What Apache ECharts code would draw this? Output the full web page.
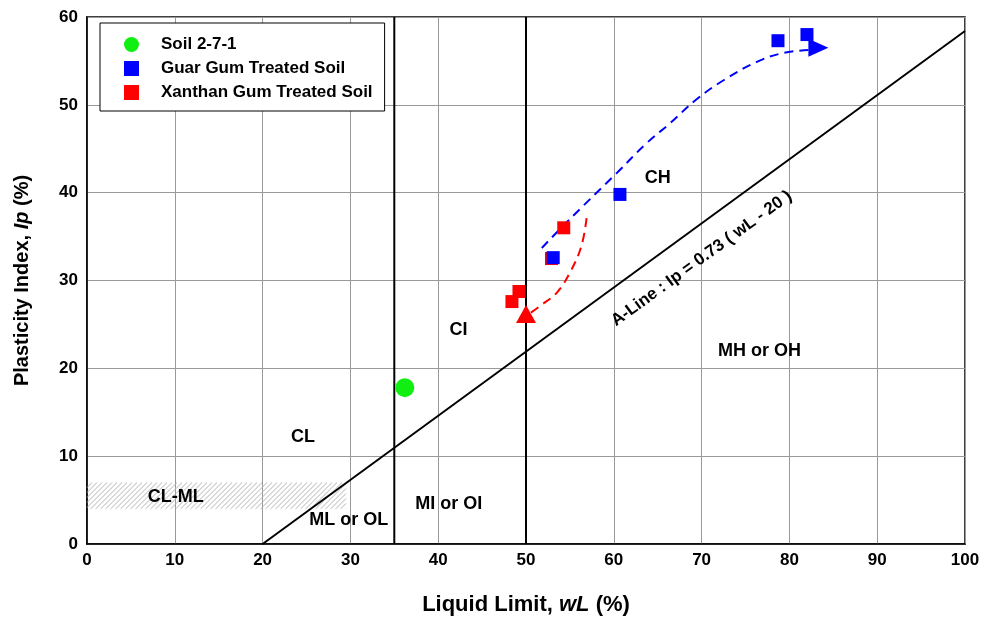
<!DOCTYPE html>
<html>
<head>
<meta charset="utf-8">
<script src="https://cdn.jsdelivr.net/npm/echarts@6/dist/echarts.min.js"></script>
<style>html,body{margin:0;padding:0;background:#fff;}#c{width:989px;height:621px;}</style>
</head>
<body>
<div id="c"></div>
<script>
// ---- data ----
const soilPoints = [[36.2, 17.8]];
const guarPoints = [[53.1, 32.6], [60.7, 39.8], [78.7, 57.3], [82.0, 58.0]];
const xanthanPoints = [[48.4, 27.6], [49.2, 28.75], [52.9, 32.5], [54.3, 36.0]];
const guarTrend = [[51.8, 33.7], [54.6, 36.6], [60.3, 42.2], [63.7, 45.6], [66.4, 47.9], [69.4, 50.6], [72.5, 52.8], [76.3, 54.9], [79.3, 55.9], [82.3, 56.25]];
const xanthanTrend = [[56.9, 37.1], [56.3, 33.9], [55.0, 30.9], [53.5, 28.6], [51.6, 27.1], [50.5, 26.3]];
const guarArrow = [[83.3, 56.5]];
const xanthanArrow = [[50.0, 26.2]];
const lineAtWL35 = [[35, 0], [35, 60]];
const lineAtWL50 = [[50, 0], [50, 60]];
const aLine = [[20, 0], [100, 58.4]];
const clmlZone = [[0, 4, 29.5, 7]];
const zoneNames = ['CL', 'CL-ML', 'ML or OL', 'MI or OI', 'CI', 'CH', 'MH or OH'];
const zoneX = [24.6, 10.1, 29.8, 41.2, 42.3, 65.0, 76.6];
const zoneY = [12.2, 5.3, 2.7, 4.5, 24.4, 41.7, 22.0];
const aLineLabel = 'A-Line : Ip = 0.73 ( wL - 20 )';
const aLineLabelPos = [70.0, 32.5];
const xTicks = [0, 10, 20, 30, 40, 50, 60, 70, 80, 90, 100];
const yTicks = [0, 10, 20, 30, 40, 50, 60];

const FONT = "'Liberation Sans', Arial, sans-serif";
const chart = echarts.init(document.getElementById('c'), null, {renderer: 'canvas'});

const option = {
  backgroundColor: '#fff',
  animation: false,
  textStyle: {fontFamily: FONT},
  grid: {left: 87, right: 24, top: 17, bottom: 76, show: true, borderColor: '#000', borderWidth: 1.5},
  legend: {
    left: 100, top: 23, orient: 'vertical',
    data: [
      {name: 'Soil 2-7-1', icon: 'circle'},
      {name: 'Guar Gum Treated Soil', icon: 'rect'},
      {name: 'Xanthan Gum Treated Soil', icon: 'rect'}
    ],
    backgroundColor: '#fff', borderColor: '#000', borderWidth: 1,
    padding: [13, 12, 10, 24], itemGap: 7, itemWidth: 15, itemHeight: 15,
    textStyle: {fontFamily: FONT, fontWeight: 'bold', fontSize: 17, color: '#000', padding: [0, 0, 0, 17]},
    z: 20
  },
  xAxis: {
    type: 'value', min: xTicks[0], max: xTicks[xTicks.length - 1], interval: 10,
    name: 'Liquid Limit, {i|wL} (%)', nameLocation: 'middle', nameGap: 50,
    nameTextStyle: {fontFamily: FONT, fontWeight: 'bold', fontSize: 22, color: '#000',
      rich: {i: {fontFamily: FONT, fontWeight: 'bold', fontStyle: 'italic', fontSize: 22, color: '#000'}}},
    axisLine: {lineStyle: {color: '#000', width: 1.5}},
    axisTick: {show: false},
    axisLabel: {color: '#000', fontWeight: 'bold', fontSize: 17, margin: 8, fontFamily: FONT},
    splitLine: {lineStyle: {color: '#999', width: 1}}
  },
  yAxis: {
    type: 'value', min: yTicks[0], max: yTicks[yTicks.length - 1], interval: 10,
    name: 'Plasticity Index, {i|Ip} (%)', nameLocation: 'middle', nameGap: 55,
    nameTextStyle: {fontFamily: FONT, fontWeight: 'bold', fontSize: 20, color: '#000',
      rich: {i: {fontFamily: FONT, fontWeight: 'bold', fontStyle: 'italic', fontSize: 20, color: '#000'}}},
    axisLine: {lineStyle: {color: '#000', width: 1.5}},
    axisTick: {show: false},
    axisLabel: {color: '#000', fontWeight: 'bold', fontSize: 17, margin: 9, fontFamily: FONT},
    splitLine: {lineStyle: {color: '#999', width: 1}}
  },
  series: [
    {
      type: 'custom', name: 'hatch', silent: true, z: 1,
      encode: {x: [0, 2], y: [1, 3]},
      data: clmlZone,
      renderItem: function (params, api) {
        const p0 = api.coord([api.value(0), api.value(3)]);
        const p1 = api.coord([api.value(2), api.value(1)]);
        const x0 = p0[0], y0 = p0[1], x1 = p1[0], y1 = p1[1];
        const children = [];
        const step = 5;
        for (let c = x0 + y0; c <= x1 + y1; c += step) {
          const xa = Math.max(x0, c - y1), xb = Math.min(x1, c - y0);
          if (xb <= xa) continue;
          children.push({type: 'line', shape: {x1: xa, y1: c - xa, x2: xb, y2: c - xb},
            style: {stroke: '#b5b5b5', lineWidth: 1}});
        }
        return {type: 'group', children: children};
      }
    },
    {type: 'line', data: lineAtWL35, symbol: 'none', lineStyle: {color: '#000', width: 2}, z: 2, silent: true},
    {type: 'line', data: lineAtWL50, symbol: 'none', lineStyle: {color: '#000', width: 2}, z: 2, silent: true},
    {type: 'line', data: aLine, symbol: 'none', lineStyle: {color: '#000', width: 2}, z: 2, silent: true},
    {type: 'line', data: guarTrend, symbol: 'none', smooth: 0.4, lineStyle: {color: '#0000ff', width: 2, type: [9, 6]}, z: 3},
    {type: 'line', data: xanthanTrend, symbol: 'none', smooth: 0.4, lineStyle: {color: '#ff0000', width: 2, type: [9, 6]}, z: 3},
    {name: 'Xanthan Gum Treated Soil', type: 'scatter', data: xanthanPoints, symbol: 'rect', symbolSize: 13, itemStyle: {color: '#ff0000', opacity: 1}, z: 4},
    {name: 'Guar Gum Treated Soil', type: 'scatter', data: guarPoints, symbol: 'rect', symbolSize: 13, itemStyle: {color: '#0000ff', opacity: 1}, z: 5},
    {name: 'Soil 2-7-1', type: 'scatter', data: soilPoints, symbol: 'circle', symbolSize: 19, itemStyle: {color: '#11ee11', opacity: 1}, z: 5},
    {type: 'scatter', data: guarArrow, symbol: 'triangle', symbolRotate: -90, symbolSize: [18, 20], itemStyle: {color: '#0000ff', opacity: 1}, z: 5},
    {type: 'scatter', data: xanthanArrow, symbol: 'triangle', symbolSize: [20, 18], itemStyle: {color: '#ff0000', opacity: 1}, z: 5},
    {
      type: 'scatter', symbolSize: 0, z: 6, silent: true, itemStyle: {opacity: 1},
      data: zoneNames.map((n, i) => ({name: n, value: [zoneX[i], zoneY[i]]})),
      label: {show: true, position: 'inside', formatter: p => p.name, color: '#000', fontWeight: 'bold', fontSize: 18, fontFamily: FONT}
    },
    {
      type: 'scatter', symbolSize: 0, z: 6, silent: true, itemStyle: {opacity: 1},
      data: [{name: aLineLabel, value: aLineLabelPos}],
      label: {show: true, position: 'inside', rotate: 36, formatter: p => p.name, color: '#000', fontWeight: 'bold', fontSize: 17, fontFamily: FONT}
    }
  ]
};
chart.setOption(option);
</script>
</body>
</html>
